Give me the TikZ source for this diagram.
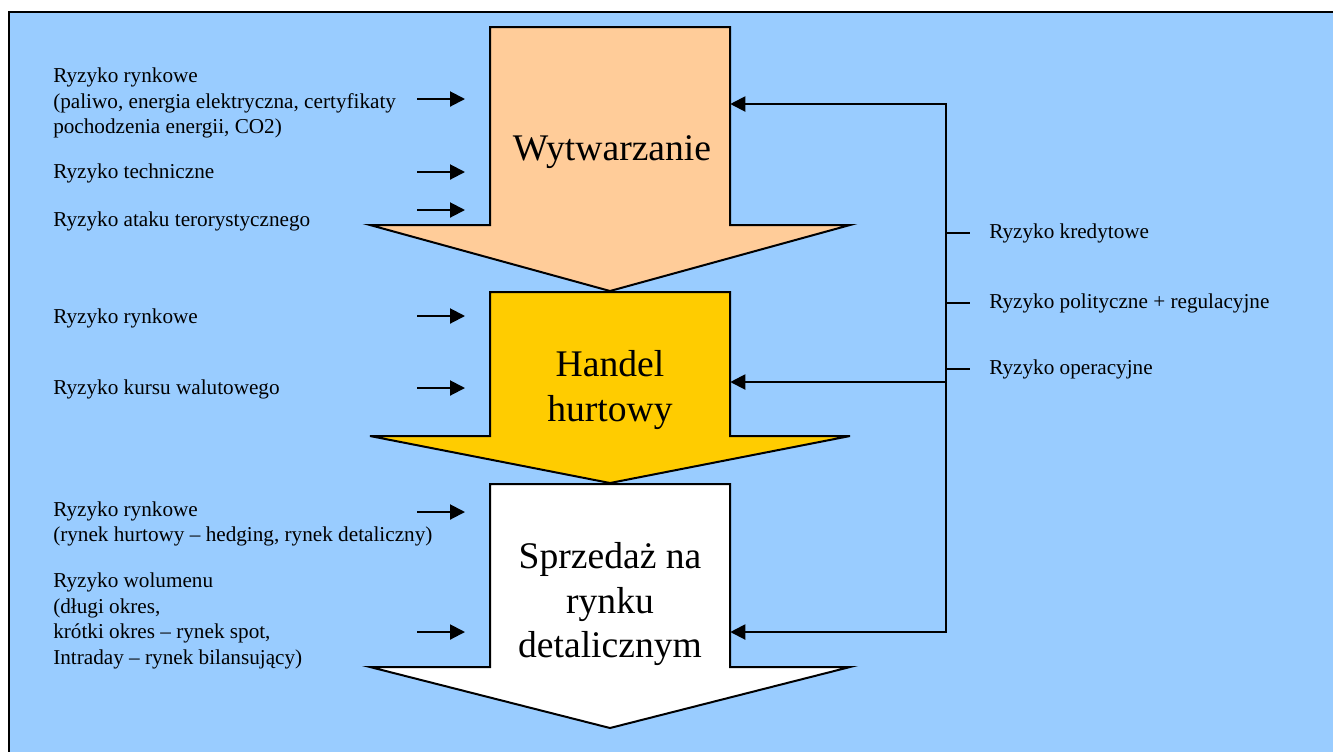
\documentclass[tikz,border=0pt]{standalone}
\usepackage{fontspec}
\setmainfont{Liberation Serif}
\usepackage{tikz}
\usetikzlibrary{arrows.meta, positioning, calc}
\definecolor{skyblue}{RGB}{153,204,255}
\definecolor{peach}{RGB}{255,204,153}
\definecolor{gold}{RGB}{255,204,0}

\begin{document}
\begin{tikzpicture}[
					x=0.75pt, y=-0.75pt,
					stage/.style={draw=black, line width=1.5pt, line join=miter},
					title/.style={align=center, minimum width=180pt, inner sep=0pt, font=\fontsize{28.2}{33.7}\selectfont},
					risk/.style={anchor=west, align=left, inner sep=0pt, font=\fontsize{15.9}{19.1}\selectfont},
					arrow/.style={-{Triangle[length=11.25pt, width=11.25pt]}, line width=1.5pt},
					tick/.style={line width=1.5pt}
					]
					\useasboundingbox (0,0) rectangle (1333,751);
					\clip (0,0) rectangle (1333,751);
					\fill[white] (0,0) rectangle (1333,751);
					\draw[line width=1.5pt, fill=skyblue] (9,12) rectangle (1345,765);
					
					% Stage arrows
					\draw[stage, fill=peach] (490,27) -- (730,27) -- (730,225) -- (850,225) -- (610,291) -- (370,225) -- (490,225) -- cycle;
					\draw[stage, fill=gold] (490,292) -- (730,292) -- (730,436) -- (850,436) -- (610,483) -- (370,436) -- (490,436) -- cycle;
					\draw[stage, fill=white] (490,484) -- (730,484) -- (730,667) -- (850,667) -- (610,728) -- (370,667) -- (490,667) -- cycle;
					
					% Define nodes
					\node[title] (wytw) at (612,152) {Wytwarzanie};
					\node[title] (handel) at (610,390) {Handel\\hurtowy};
					\node[title] (sprz) at (610,604) {Sprzedaż na\\rynku\\detalicznym};
					
					\node[risk] (rynek1) at (53,103) {Ryzyko rynkowe\\(paliwo, energia elektryczna, certyfikaty\\pochodzenia energii, CO2)};
					\node[risk] (tech) at (53,173) {Ryzyko techniczne};
					\node[risk] (atak) at (53,221) {Ryzyko ataku terorystycznego};
					\node[risk] (rynek2) at (53,318) {Ryzyko rynkowe};
					\node[risk] (kurs) at (53,389) {Ryzyko kursu walutowego};
					\node[risk] (rynek3) at (53,524) {Ryzyko rynkowe\\(rynek hurtowy – hedging, rynek detaliczny)};
					\node[risk] (wolumen) at (53,621) {Ryzyko wolumenu\\(długi okres,\\krótki okres – rynek spot,\\Intraday – rynek bilansujący)};
					
					\node[risk] (kred) at (989,233) {Ryzyko kredytowe};
					\node[risk] (polit) at (989,303) {Ryzyko polityczne + regulacyjne};
					\node[risk] (oper) at (989,369) {Ryzyko operacyjne};
					
					% Arrows
					\foreach \y [count=\i] in {99,172,210,316,388,512,632}
						\coordinate (in\i) at (465,\y);
					\foreach \i in {1,...,7}
						\draw[arrow] ([xshift=-36pt]in\i) -- (in\i);
					
					\coordinate (bustop) at (946,104);
					\coordinate (busmid) at (946,382);
					\coordinate (busbot) at (946,632);
					\draw[arrow] (busmid) |- (handel.east |- bustop);
					\draw[arrow] (busmid) -- (handel.east |- busmid);
					\draw[arrow] (busmid) |- (sprz.east |- busbot);
					\foreach \n in {kred,polit,oper}
						\draw[tick] (\n.west -| busmid) -- ++(24,0);
				\end{tikzpicture}
\end{document}
